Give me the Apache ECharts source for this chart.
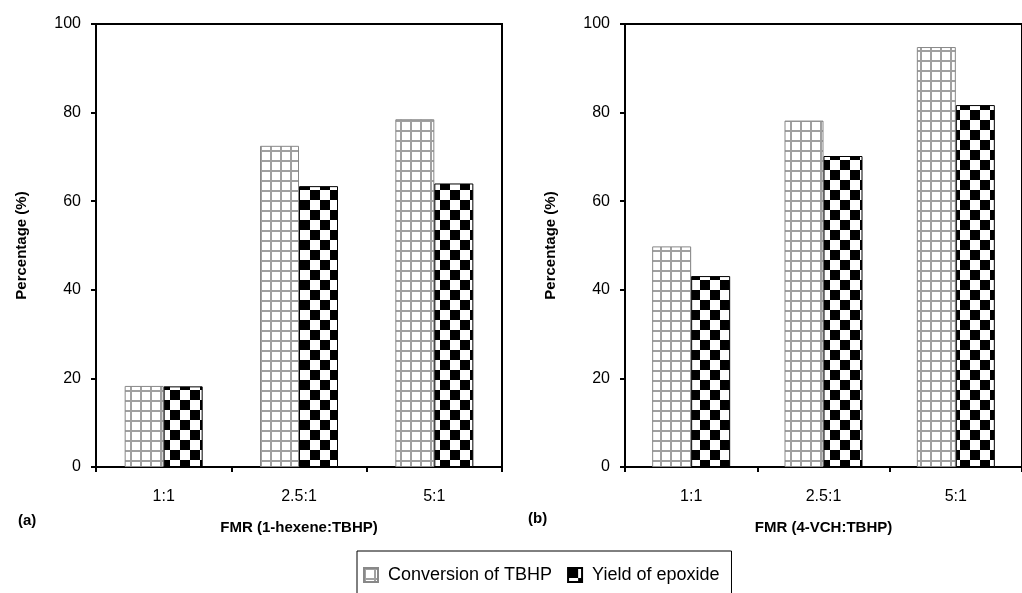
<!DOCTYPE html>
<html>
<head>
<meta charset="utf-8">
<script src="https://cdn.jsdelivr.net/npm/echarts@6/dist/echarts.min.js"></script>
<style>
  html, body { margin: 0; padding: 0; background: #fff; }
  #chart { width: 1022px; height: 593px; }
</style>
</head>
<body>
<div id="chart"></div>
<script>
// data
const categories = ['1:1', '2.5:1', '5:1'];
const hexeneConversion = [18.3, 72.5, 78.5];
const hexeneYield = [18.2, 63.4, 64.0];
const vchConversion = [49.8, 78.2, 94.8];
const vchYield = [43.1, 70.2, 81.7];
const yTicks = [0, 20, 40, 60, 80, 100];

const FONT = '"Liberation Sans", Arial, sans-serif';

// fill patterns
function gridPattern() {
  const c = document.createElement('canvas');
  c.width = 10; c.height = 10;
  const ctx = c.getContext('2d');
  ctx.fillStyle = '#fff';
  ctx.fillRect(0, 0, 10, 10);
  ctx.fillStyle = '#a0a0a0';
  ctx.fillRect(0, 0, 10, 2);
  ctx.fillRect(0, 0, 2, 10);
  return c;
}
function checkerPattern() {
  const c = document.createElement('canvas');
  c.width = 20; c.height = 20;
  const ctx = c.getContext('2d');
  ctx.fillStyle = '#fff';
  ctx.fillRect(0, 0, 20, 20);
  ctx.fillStyle = '#000';
  ctx.fillRect(0, 0, 10, 10);
  ctx.fillRect(10, 10, 10, 10);
  return c;
}
const gridFill = { image: gridPattern(), repeat: 'repeat' };
const checkFill = { image: checkerPattern(), repeat: 'repeat' };

const chart = echarts.init(document.getElementById('chart'));

function xAxis(gridIndex, name) {
  return {
    type: 'category',
    gridIndex: gridIndex,
    data: categories,
    name: name,
    nameLocation: 'middle',
    nameGap: 53,
    nameTextStyle: { fontFamily: FONT, fontSize: 15, fontWeight: 'bold', color: '#000' },
    axisLine: { lineStyle: { color: '#000', width: 2 } },
    axisTick: { show: true, length: 5, lineStyle: { color: '#000', width: 2 } },
    axisLabel: { fontFamily: FONT, fontSize: 16, color: '#000', margin: 22 }
  };
}
function yAxis(gridIndex) {
  return {
    type: 'value',
    gridIndex: gridIndex,
    min: yTicks[0],
    max: yTicks[yTicks.length - 1],
    interval: 20,
    name: 'Percentage (%)',
    nameLocation: 'middle',
    nameGap: 67,
    nameTextStyle: { fontFamily: FONT, fontSize: 15, fontWeight: 'bold', color: '#000' },
    splitLine: { show: false },
    axisLine: { show: true, lineStyle: { color: '#000', width: 2 } },
    axisTick: { show: true, length: 5, lineStyle: { color: '#000', width: 2 } },
    axisLabel: { fontFamily: FONT, fontSize: 16, color: '#000', margin: 15 }
  };
}
function bar(name, data, idx, fill, border) {
  return {
    name: name,
    type: 'bar',
    xAxisIndex: idx,
    yAxisIndex: idx,
    data: data,
    barWidth: 39,
    barGap: '0%',
    itemStyle: { color: fill, borderColor: border, borderWidth: 1 },
    emphasis: { disabled: true }
  };
}

chart.setOption({
  backgroundColor: '#fff',
  animation: false,
  grid: [
    { left: 96, top: 24, width: 406, height: 443, show: true, borderColor: '#000', borderWidth: 2 },
    { left: 625, top: 24, width: 399, height: 443, show: true, borderColor: '#000', borderWidth: 2 }
  ],
  xAxis: [xAxis(0, 'FMR (1-hexene:TBHP)'), xAxis(1, 'FMR (4-VCH:TBHP)')],
  yAxis: [yAxis(0), yAxis(1)],
  legend: {
    left: 357,
    top: 551,
    itemWidth: 14,
    itemHeight: 14,
    itemGap: 15,
    padding: [15, 12, 30, 6],
    borderColor: '#000',
    borderWidth: 1,
    icon: 'rect',
    textStyle: { fontFamily: FONT, fontSize: 18, color: '#000', padding: [0, 0, 0, 5] },
    data: ['Conversion of TBHP', 'Yield of epoxide']
  },
  graphic: [
    { type: 'text', left: 18, top: 513, style: { text: '(a)', font: 'bold 15px ' + FONT, fill: '#000' } },
    { type: 'text', left: 528, top: 511, style: { text: '(b)', font: 'bold 15px ' + FONT, fill: '#000' } }
  ],
  series: [
    bar('Conversion of TBHP', hexeneConversion, 0, gridFill, '#888'),
    bar('Yield of epoxide', hexeneYield, 0, checkFill, '#000'),
    bar('Conversion of TBHP', vchConversion, 1, gridFill, '#888'),
    bar('Yield of epoxide', vchYield, 1, checkFill, '#000')
  ]
});
</script>
</body>
</html>
